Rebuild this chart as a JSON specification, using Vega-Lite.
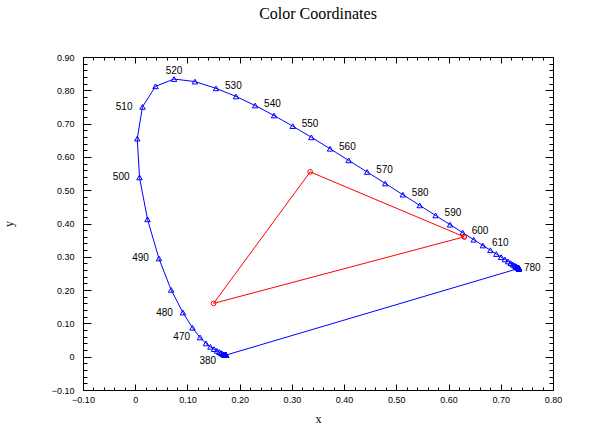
{
  "$schema": "https://vega.github.io/schema/vega-lite/v6.json",
  "width": 470,
  "height": 333,
  "autosize": "none",
  "padding": {"left": 83, "top": 57, "right": 49, "bottom": 44},
  "background": "white",
  "title": {"text": "Color Coordinates", "font": "Liberation Serif", "fontSize": 16, "fontWeight": "normal", "color": "black", "anchor": "middle", "offset": 31},
  "config": {
    "view": {"stroke": null},
    "axis": {"grid": false, "domainColor": "black", "tickColor": "black", "labelColor": "black", "labelFont": "Liberation Sans", "labelFontSize": 9, "titleFont": "Liberation Serif", "titleFontSize": 12, "titleFontWeight": "normal", "titleColor": "black", "labelOverlap": false, "labelFlush": false}
  },
  "datasets": {
    "locus": [
      {"nm": 380, "x": 0.1741, "y": 0.0050}, {"nm": 385, "x": 0.1740, "y": 0.0050}, {"nm": 390, "x": 0.1738, "y": 0.0049}, {"nm": 395, "x": 0.1736, "y": 0.0049},
      {"nm": 400, "x": 0.1733, "y": 0.0048}, {"nm": 405, "x": 0.1730, "y": 0.0048}, {"nm": 410, "x": 0.1726, "y": 0.0048}, {"nm": 415, "x": 0.1721, "y": 0.0048},
      {"nm": 420, "x": 0.1714, "y": 0.0051}, {"nm": 425, "x": 0.1703, "y": 0.0058}, {"nm": 430, "x": 0.1689, "y": 0.0069}, {"nm": 435, "x": 0.1669, "y": 0.0086},
      {"nm": 440, "x": 0.1644, "y": 0.0109}, {"nm": 445, "x": 0.1611, "y": 0.0138}, {"nm": 450, "x": 0.1566, "y": 0.0177}, {"nm": 455, "x": 0.1510, "y": 0.0227},
      {"nm": 460, "x": 0.1440, "y": 0.0297}, {"nm": 465, "x": 0.1355, "y": 0.0399}, {"nm": 470, "x": 0.1241, "y": 0.0578}, {"nm": 475, "x": 0.1096, "y": 0.0868},
      {"nm": 480, "x": 0.0913, "y": 0.1327}, {"nm": 485, "x": 0.0687, "y": 0.2007}, {"nm": 490, "x": 0.0454, "y": 0.2950}, {"nm": 495, "x": 0.0235, "y": 0.4127},
      {"nm": 500, "x": 0.0082, "y": 0.5384}, {"nm": 505, "x": 0.0039, "y": 0.6548}, {"nm": 510, "x": 0.0139, "y": 0.7502}, {"nm": 515, "x": 0.0389, "y": 0.8120},
      {"nm": 520, "x": 0.0743, "y": 0.8338}, {"nm": 525, "x": 0.1142, "y": 0.8262}, {"nm": 530, "x": 0.1547, "y": 0.8059}, {"nm": 535, "x": 0.1929, "y": 0.7816},
      {"nm": 540, "x": 0.2296, "y": 0.7543}, {"nm": 545, "x": 0.2658, "y": 0.7243}, {"nm": 550, "x": 0.3016, "y": 0.6923}, {"nm": 555, "x": 0.3373, "y": 0.6589},
      {"nm": 560, "x": 0.3731, "y": 0.6245}, {"nm": 565, "x": 0.4087, "y": 0.5896}, {"nm": 570, "x": 0.4441, "y": 0.5547}, {"nm": 575, "x": 0.4788, "y": 0.5202},
      {"nm": 580, "x": 0.5125, "y": 0.4866}, {"nm": 585, "x": 0.5448, "y": 0.4544}, {"nm": 590, "x": 0.5752, "y": 0.4242}, {"nm": 595, "x": 0.6029, "y": 0.3965},
      {"nm": 600, "x": 0.6270, "y": 0.3725}, {"nm": 605, "x": 0.6482, "y": 0.3514}, {"nm": 610, "x": 0.6658, "y": 0.3340}, {"nm": 615, "x": 0.6801, "y": 0.3197},
      {"nm": 620, "x": 0.6915, "y": 0.3083}, {"nm": 625, "x": 0.7006, "y": 0.2993}, {"nm": 630, "x": 0.7079, "y": 0.2920}, {"nm": 635, "x": 0.7140, "y": 0.2859},
      {"nm": 640, "x": 0.7190, "y": 0.2809}, {"nm": 645, "x": 0.7230, "y": 0.2770}, {"nm": 650, "x": 0.7260, "y": 0.2740}, {"nm": 655, "x": 0.7283, "y": 0.2717},
      {"nm": 660, "x": 0.7300, "y": 0.2700}, {"nm": 665, "x": 0.7311, "y": 0.2689}, {"nm": 670, "x": 0.7320, "y": 0.2680}, {"nm": 675, "x": 0.7327, "y": 0.2673},
      {"nm": 680, "x": 0.7334, "y": 0.2666}, {"nm": 685, "x": 0.7340, "y": 0.2660}, {"nm": 690, "x": 0.7344, "y": 0.2656}, {"nm": 695, "x": 0.7346, "y": 0.2654},
      {"nm": 700, "x": 0.7347, "y": 0.2653}, {"nm": 705, "x": 0.7347, "y": 0.2653}, {"nm": 710, "x": 0.7347, "y": 0.2653}, {"nm": 715, "x": 0.7347, "y": 0.2653},
      {"nm": 720, "x": 0.7347, "y": 0.2653}, {"nm": 725, "x": 0.7347, "y": 0.2653}, {"nm": 730, "x": 0.7347, "y": 0.2653}, {"nm": 735, "x": 0.7347, "y": 0.2653},
      {"nm": 740, "x": 0.7347, "y": 0.2653}, {"nm": 745, "x": 0.7347, "y": 0.2653}, {"nm": 750, "x": 0.7347, "y": 0.2653}, {"nm": 755, "x": 0.7347, "y": 0.2653},
      {"nm": 760, "x": 0.7347, "y": 0.2653}, {"nm": 765, "x": 0.7347, "y": 0.2653}, {"nm": 770, "x": 0.7347, "y": 0.2653}, {"nm": 775, "x": 0.7347, "y": 0.2653},
      {"nm": 780, "x": 0.7347, "y": 0.2653}
    ],
    "purple": [{"x": 0.7347, "y": 0.2653, "x2": 0.1741, "y2": 0.0050}],
    "gamut": [
      {"i": 0, "x": 0.63, "y": 0.36},
      {"i": 1, "x": 0.335, "y": 0.555},
      {"i": 2, "x": 0.15, "y": 0.16},
      {"i": 3, "x": 0.63, "y": 0.36}
    ]
  },
  "resolve": {"axis": {"x": "independent", "y": "independent"}},
  "layer": [
    {
      "data": {"name": "locus"},
      "mark": {"type": "line", "color": "#0000FF", "strokeWidth": 1, "interpolate": "linear"},
      "encoding": {
        "x": {"field": "x", "type": "quantitative", "scale": {"domain": [-0.1, 0.8], "nice": false, "zero": false},
          "axis": {"orient": "bottom", "title": "x", "titlePadding": 6,
            "values": [-0.1,-0.08,-0.06,-0.04,-0.02,0,0.02,0.04,0.06,0.08,0.1,0.12,0.14,0.16,0.18,0.2,0.22,0.24,0.26,0.28,0.3,0.32,0.34,0.36,0.38,0.4,0.42,0.44,0.46,0.48,0.5,0.52,0.54,0.56,0.58,0.6,0.62,0.64,0.66,0.68,0.7,0.72,0.74,0.76,0.78,0.8],
            "labelExpr": "abs(datum.value*10 - round(datum.value*10)) < 0.001 ? (abs(datum.value) < 1e-9 ? '0' : format(datum.value, '.2f')) : ''",
            "tickSize": {"condition": {"test": "abs(datum.value*10 - round(datum.value*10)) < 0.001", "value": -6}, "value": -3},
            "labelPadding": 11}},
        "y": {"field": "y", "type": "quantitative", "scale": {"domain": [-0.1, 0.9], "nice": false, "zero": false},
          "axis": {"orient": "left", "title": "y", "titlePadding": 36,
            "values": [-0.1,-0.08,-0.06,-0.04,-0.02,0,0.02,0.04,0.06,0.08,0.1,0.12,0.14,0.16,0.18,0.2,0.22,0.24,0.26,0.28,0.3,0.32,0.34,0.36,0.38,0.4,0.42,0.44,0.46,0.48,0.5,0.52,0.54,0.56,0.58,0.6,0.62,0.64,0.66,0.68,0.7,0.72,0.74,0.76,0.78,0.8,0.82,0.84,0.86,0.88,0.9],
            "labelExpr": "abs(datum.value*10 - round(datum.value*10)) < 0.001 ? (abs(datum.value) < 1e-9 ? '0' : format(datum.value, '.2f')) : ''",
            "tickSize": {"condition": {"test": "abs(datum.value*10 - round(datum.value*10)) < 0.001", "value": -8}, "value": -4},
            "labelPadding": 17}},
        "order": {"field": "nm", "type": "quantitative"}
      }
    },
    {
      "data": {"name": "locus"},
      "mark": {"type": "point", "shape": "triangle-up", "filled": false, "color": "#0000FF", "size": 30, "strokeWidth": 1, "opacity": 1},
      "encoding": {
        "x": {"field": "x", "type": "quantitative",
          "axis": {"orient": "top", "title": null, "labels": false,
            "values": [-0.1,-0.08,-0.06,-0.04,-0.02,0,0.02,0.04,0.06,0.08,0.1,0.12,0.14,0.16,0.18,0.2,0.22,0.24,0.26,0.28,0.3,0.32,0.34,0.36,0.38,0.4,0.42,0.44,0.46,0.48,0.5,0.52,0.54,0.56,0.58,0.6,0.62,0.64,0.66,0.68,0.7,0.72,0.74,0.76,0.78,0.8],
            "tickSize": {"condition": {"test": "abs(datum.value*10 - round(datum.value*10)) < 0.001", "value": -6}, "value": -3}}},
        "y": {"field": "y", "type": "quantitative",
          "axis": {"orient": "right", "title": null, "labels": false,
            "values": [-0.1,-0.08,-0.06,-0.04,-0.02,0,0.02,0.04,0.06,0.08,0.1,0.12,0.14,0.16,0.18,0.2,0.22,0.24,0.26,0.28,0.3,0.32,0.34,0.36,0.38,0.4,0.42,0.44,0.46,0.48,0.5,0.52,0.54,0.56,0.58,0.6,0.62,0.64,0.66,0.68,0.7,0.72,0.74,0.76,0.78,0.8,0.82,0.84,0.86,0.88,0.9],
            "tickSize": {"condition": {"test": "abs(datum.value*10 - round(datum.value*10)) < 0.001", "value": -8}, "value": -4}}}
      }
    },
    {
      "data": {"name": "purple"},
      "mark": {"type": "rule", "color": "#0000FF", "strokeWidth": 1},
      "encoding": {
        "x": {"field": "x", "type": "quantitative", "axis": null},
        "y": {"field": "y", "type": "quantitative", "axis": null},
        "x2": {"field": "x2"},
        "y2": {"field": "y2"}
      }
    },
    {
      "data": {"name": "gamut"},
      "mark": {"type": "line", "color": "#FF0000", "strokeWidth": 1},
      "encoding": {
        "x": {"field": "x", "type": "quantitative", "axis": null},
        "y": {"field": "y", "type": "quantitative", "axis": null},
        "order": {"field": "i", "type": "quantitative"}
      }
    },
    {
      "data": {"name": "gamut"},
      "mark": {"type": "point", "shape": "circle", "filled": false, "color": "#FF0000", "size": 22, "strokeWidth": 1, "opacity": 1},
      "encoding": {
        "x": {"field": "x", "type": "quantitative", "axis": null},
        "y": {"field": "y", "type": "quantitative", "axis": null}
      }
    },
    {
      "data": {"name": "locus"},
      "transform": [{"filter": "indexof([470, 480, 490, 500, 510], datum.nm) >= 0"}],
      "mark": {"type": "text", "font": "Liberation Sans", "fontSize": 10, "color": "black", "align": "right", "baseline": "middle", "dx": -10},
      "encoding": {
        "x": {"field": "x", "type": "quantitative", "axis": null},
        "y": {"field": "y", "type": "quantitative", "axis": null},
        "text": {"field": "nm"}
      }
    },
    {
      "data": {"name": "locus"},
      "transform": [{"filter": "datum.nm == 380"}],
      "mark": {"type": "text", "font": "Liberation Sans", "fontSize": 10, "color": "black", "align": "right", "baseline": "middle", "dx": -10, "dy": 6},
      "encoding": {
        "x": {"field": "x", "type": "quantitative", "axis": null},
        "y": {"field": "y", "type": "quantitative", "axis": null},
        "text": {"field": "nm"}
      }
    },
    {
      "data": {"name": "locus"},
      "transform": [{"filter": "datum.nm == 520"}],
      "mark": {"type": "text", "font": "Liberation Sans", "fontSize": 10, "color": "black", "align": "center", "baseline": "middle", "dy": -8},
      "encoding": {
        "x": {"field": "x", "type": "quantitative", "axis": null},
        "y": {"field": "y", "type": "quantitative", "axis": null},
        "text": {"field": "nm"}
      }
    },
    {
      "data": {"name": "locus"},
      "transform": [{"filter": "datum.nm >= 530 && datum.nm <= 610 && datum.nm % 10 == 0"}],
      "mark": {"type": "text", "font": "Liberation Sans", "fontSize": 10, "color": "black", "align": "left", "baseline": "middle", "dx": 9, "dy": -2},
      "encoding": {
        "x": {"field": "x", "type": "quantitative", "axis": null},
        "y": {"field": "y", "type": "quantitative", "axis": null},
        "text": {"field": "nm"}
      }
    },
    {
      "data": {"name": "locus"},
      "transform": [{"filter": "datum.nm == 780"}],
      "mark": {"type": "text", "font": "Liberation Sans", "fontSize": 10, "color": "black", "align": "left", "baseline": "middle", "dx": 5},
      "encoding": {
        "x": {"field": "x", "type": "quantitative", "axis": null},
        "y": {"field": "y", "type": "quantitative", "axis": null},
        "text": {"field": "nm"}
      }
    }
  ]
}
